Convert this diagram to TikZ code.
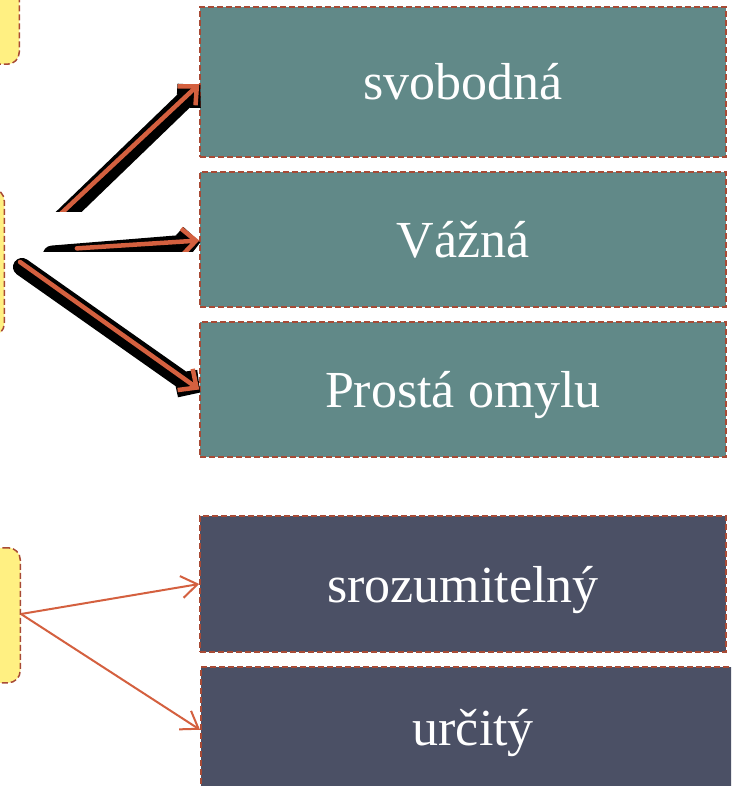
\documentclass[tikz,border=0pt]{standalone}
\usepackage{fontspec}
\setmainfont{Liberation Serif}
\usetikzlibrary{arrows.meta}
\definecolor{BoxTeal}{HTML}{618988}
\definecolor{BoxSlate}{HTML}{4B5065}
\definecolor{NoteYellow}{HTML}{FFF082}
\definecolor{EdgeRust}{HTML}{A84A35}
\definecolor{ArrowOrange}{HTML}{D4603F}
\tikzset{block/.style={draw=EdgeRust,dash pattern=on 6pt off 3pt,line width=1.5pt,
 text=white,minimum width=526pt,inner sep=0pt,text height=44pt,text depth=8pt,
 font=\fontsize{52}{60}\selectfont},
 note/.style={draw=EdgeRust,fill=NoteYellow,dash pattern=on 6pt off 3pt,line width=1.5pt,
 rounded corners=12pt,inner sep=0pt},
 halo/.style={draw=black,line width=18pt,line cap=round,line join=round},
 halotip/.style={draw=black,line width=8pt,line cap=round,line join=round,
 -{Straight Barb[length=12pt,width=26pt,line width=11pt]}},
 heavy/.style={draw=ArrowOrange,line width=4.5pt,line cap=round,-{Straight Barb[length=14pt,width=26pt]}},
 link/.style={draw=ArrowOrange,line width=2pt,-{Straight Barb[length=16pt,width=22pt]}}}
\begin{document}
\begin{tikzpicture}[x=1pt,y=-1pt]
\clip (0,0) rectangle (731,786);
\fill[white] (0,0) rectangle (731,786);
% left notes, cut off by the slide edge
\node[note,minimum width=70pt,minimum height=105pt,anchor=south east] (druhy) at (20,65) {};
\node[note,minimum width=60pt,minimum height=147pt,anchor=north east] (omyl) at (5,188) {};
\node[note,minimum width=70pt,minimum height=135pt,anchor=north east] (projev) at (21,547) {};
% right boxes
\node[block,fill=BoxTeal,minimum height=150pt] (svobodna) at (463,82) {svobodná};
\node[block,fill=BoxTeal,minimum height=135pt] (vazna) at (463,239.5) {Vážná};
\node[block,fill=BoxTeal,minimum height=135pt] (prosta) at (463,389.5) {Prostá omylu};
\node[block,fill=BoxSlate,minimum height=136pt] (srozumitelny) at (463,584) {srozumitelný};
\node[block,fill=BoxSlate,minimum width=545pt,minimum height=122pt,anchor=north west] (urcity)
 at (200,666) {určitý\hspace{19pt}};
% arrows with their shadows
\coordinate (rozcesti) at (20,252);
\coordinate (rozcestib) at (20,262);
\coordinate (rozcestic) at (21,614);
\begin{scope}
\clip (0,0) rectangle (731,212);
\draw[halo,shorten >=16pt] ([shift={(2,5)}]rozcesti) -- ([shift={(1,3)}]svobodna.west);
\draw[halotip] ([shift={(2,5)}]rozcesti) -- ([shift={(1,3)}]svobodna.west);
\draw[heavy] (rozcesti) -- ([yshift=-2pt]svobodna.west);
\end{scope}
\begin{scope}
\clip (0,0) rectangle (731,251);
\draw[halo,shorten <=30pt,shorten >=16pt] ([shift={(2,5)}]rozcesti) -- ([shift={(1,3)}]vazna.west);
\draw[halotip,shorten <=30pt] ([shift={(2,5)}]rozcesti) -- ([shift={(1,3)}]vazna.west);
\draw[heavy,shorten <=57pt] (rozcesti) -- ([yshift=-1pt]vazna.west);
\end{scope}
\draw[halo,shorten >=16pt] ([shift={(2,5)}]rozcestib) -- ([shift={(1,3)}]prosta.west);
\draw[halotip] ([shift={(2,5)}]rozcestib) -- ([shift={(1,3)}]prosta.west);
\draw[heavy] (rozcestib) -- (prosta.west);
\draw[link] (rozcestic) -- (srozumitelny.west);
\draw[link] (rozcestic) -- ([yshift=-2pt]urcity.west);
\end{tikzpicture}
\end{document}
